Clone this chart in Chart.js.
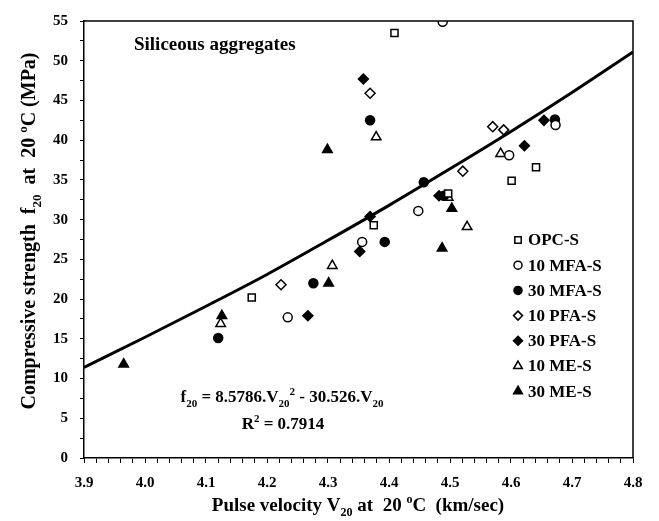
<!DOCTYPE html>
<html>
<head>
<meta charset="utf-8">
<script src="https://cdn.jsdelivr.net/npm/chart.js@4.4.1/dist/chart.umd.min.js"></script>
<style>
  html, body { margin: 0; padding: 0; background: #ffffff; }
  #wrap { width: 659px; height: 521px; }
</style>
</head>
<body>
<div id="wrap"><canvas id="ms-scatter" width="659" height="521"></canvas></div>
<script>
// Data: pulse velocity V20 (km/sec) vs compressive strength f20 (MPa)
const opc_v   = [4.409, 4.375, 4.175, 4.497, 4.601, 4.641];
const opc_f   = [53.5, 29.3, 20.2, 33.3, 34.9, 36.6];

const mfa10_v = [4.488, 4.673, 4.597, 4.448, 4.356, 4.234];
const mfa10_f = [54.9, 41.9, 38.1, 31.1, 27.2, 17.7];

const mfa30_v = [4.369, 4.672, 4.457, 4.490, 4.393, 4.276, 4.120];
const mfa30_f = [42.5, 42.6, 34.7, 33.0, 27.2, 22.0, 15.1];

const pfa10_v = [4.369, 4.570, 4.588, 4.521, 4.223];
const pfa10_f = [45.9, 41.7, 41.3, 36.1, 21.8];

const pfa30_v = [4.358, 4.654, 4.622, 4.482, 4.369, 4.352, 4.267];
const pfa30_f = [47.7, 42.5, 39.3, 33.0, 30.4, 26.0, 17.9];

const me10_v  = [4.379, 4.583, 4.497, 4.528, 4.307, 4.124];
const me10_f  = [40.4, 38.3, 32.8, 29.1, 24.2, 16.9];

const me30_v  = [4.299, 4.503, 4.487, 4.301, 4.126, 3.965];
const me30_f  = [38.8, 31.4, 26.4, 22.0, 17.9, 11.8];

// Fitted curve, read at each major x tick
const fit_v = [3.9, 4.0, 4.1, 4.2, 4.3, 4.4, 4.5, 4.6, 4.7, 4.8];
const fit_f = [11.4, 15.2, 19.1, 23.1, 27.4, 31.8, 36.4, 41.1, 46.0, 51.1];

const series_labels = ["OPC-S", "10 MFA-S", "30 MFA-S", "10 PFA-S", "30 PFA-S", "10 ME-S", "30 ME-S"];
const series_v = [opc_v, mfa10_v, mfa30_v, pfa10_v, pfa30_v, me10_v, me30_v];
const series_f = [opc_f, mfa10_f, mfa30_f, pfa10_f, pfa30_f, me10_f, me30_f];
const series_shape = ["rect", "circle", "circle", "rectRot", "rectRot", "triangle", "triangle"];
const series_filled = [false, false, true, false, true, false, true];
const series_radius = [5, 4.5, 4.5, 5, 5, 5.5, 5.5];

const serif = "'Liberation Serif', 'Times New Roman', serif";

const toPoints = (xs, ys) => xs.map((x, i) => ({ x: x, y: ys[i] }));

const scatter_sets = series_labels.map((label, i) => ({
  label,
  data: toPoints(series_v[i], series_f[i]),
  pointStyle: series_shape[i],
  pointRadius: series_radius[i],
  pointBackgroundColor: series_filled[i] ? "#000000" : "#ffffff",
  pointBorderColor: "#000000",
  pointBorderWidth: 1.5,
  showLine: false
}));

const fit_set = {
  label: "fit",
  data: toPoints(fit_v, fit_f),
  showLine: true,
  borderColor: "#000000",
  borderWidth: 3,
  pointRadius: 0,
  cubicInterpolationMode: "monotone"
};

// draw text with subscripts / superscripts, centred on x
function drawRich(ctx, segs, x, y, size) {
  const small = Math.round(size * 0.65);
  let total = 0;
  segs.forEach(s => {
    ctx.font = "bold " + (s.sub || s.sup ? small : size) + "px " + serif;
    s.w = ctx.measureText(s.t).width;
    total += s.w;
  });
  let cx = x - total / 2;
  ctx.textAlign = "left";
  ctx.textBaseline = "alphabetic";
  segs.forEach(s => {
    ctx.font = "bold " + (s.sub || s.sup ? small : size) + "px " + serif;
    let dy = 0;
    if (s.sub) dy = size * 0.28;
    if (s.sup) dy = -size * 0.42;
    ctx.fillText(s.t, cx, y + dy);
    cx += s.w;
  });
}

const annotations = {
  id: "annotations",
  afterDraw(chart) {
    const ctx = chart.ctx;
    const area = chart.chartArea;
    ctx.save();
    ctx.fillStyle = "#000000";

    // frame top & right
    ctx.strokeStyle = "#000000";
    ctx.lineWidth = 1.5;
    ctx.beginPath();
    ctx.moveTo(area.left, area.top);
    ctx.lineTo(area.right, area.top);
    ctx.lineTo(area.right, area.bottom);
    ctx.stroke();

    // panel label
    ctx.font = "bold 19px " + serif;
    ctx.textAlign = "left";
    ctx.textBaseline = "middle";
    ctx.fillText("Siliceous aggregates", 134, 45);

    // equation
    drawRich(ctx, [
      { t: "f" }, { t: "20", sub: true }, { t: " = 8.5786.V" }, { t: "20", sub: true },
      { t: "2", sup: true }, { t: " - 30.526.V" }, { t: "20", sub: true }
    ], 282, 402, 17);
    drawRich(ctx, [{ t: "R" }, { t: "2", sup: true }, { t: " = 0.7914" }], 283, 429, 17);

    // legend
    series_labels.forEach((label, i) => {
      const ly = 240 + i * 25.2;
      ctx.fillStyle = series_filled[i] ? "#000000" : "#ffffff";
      ctx.strokeStyle = "#000000";
      ctx.lineWidth = 1.5;
      Chart.helpers.drawPoint(ctx, {
        pointStyle: series_shape[i],
        radius: series_radius[i] - 0.5,
        rotation: 0,
        borderWidth: 1.5
      }, 518, ly);
      ctx.fillStyle = "#000000";
      ctx.font = "bold 17px " + serif;
      ctx.textAlign = "left";
      ctx.textBaseline = "middle";
      ctx.fillText(label, 528, ly + 1);
    });

    // x axis title
    drawRich(ctx, [
      { t: "Pulse velocity V" }, { t: "20", sub: true }, { t: " at  20 " },
      { t: "o", sup: true }, { t: "C  (km/sec)" }
    ], 358, 511, 19);

    // y axis title
    ctx.translate(35, 231);
    ctx.rotate(-Math.PI / 2);
    drawRich(ctx, [
      { t: "Compressive strength  f" }, { t: "20", sub: true }, { t: "  at  20 " },
      { t: "o", sup: true }, { t: "C (MPa)" }
    ], 0, 0, 20);

    ctx.restore();
  }
};

new Chart(document.getElementById("ms-scatter"), {
  type: "scatter",
  data: { datasets: [fit_set, ...scatter_sets] },
  options: {
    responsive: false,
    animation: false,
    layout: { padding: { left: 0, top: 14, right: 26, bottom: 0 } },
    plugins: {
      legend: { display: false },
      tooltip: { enabled: false }
    },
    scales: {
      x: {
        type: "linear",
        min: 3.9,
        max: 4.8,
        afterFit: scale => { scale.height = 63; },
        afterBuildTicks: scale => {
          const ticks = [];
          for (let i = 0; i <= 45; i++) ticks.push({ value: Number((3.9 + i * 0.02).toFixed(2)) });
          scale.ticks = ticks;
        },
        ticks: {
          autoSkip: false,
          maxRotation: 0,
          padding: 11,
          color: "#000000",
          font: { family: serif, size: 15, weight: "bold" },
          callback: v => Math.abs(v * 10 - Math.round(v * 10)) < 1e-6 ? v.toFixed(1) : ""
        },
        grid: { drawOnChartArea: false, drawTicks: true, tickLength: 5, color: "#000000", lineWidth: 1 },
        border: { display: true, color: "#000000", width: 1.5 }
      },
      y: {
        min: 0,
        max: 55,
        afterFit: scale => { scale.width = 84; },
        ticks: {
          stepSize: 2.5,
          autoSkip: false,
          padding: 12,
          color: "#000000",
          font: { family: serif, size: 15, weight: "bold" },
          callback: v => v % 5 === 0 ? String(v) : ""
        },
        grid: { drawOnChartArea: false, drawTicks: true, tickLength: 4, color: "#000000", lineWidth: 1 },
        border: { display: true, color: "#000000", width: 1.5 }
      }
    }
  },
  plugins: [annotations]
});
</script>
</body>
</html>
